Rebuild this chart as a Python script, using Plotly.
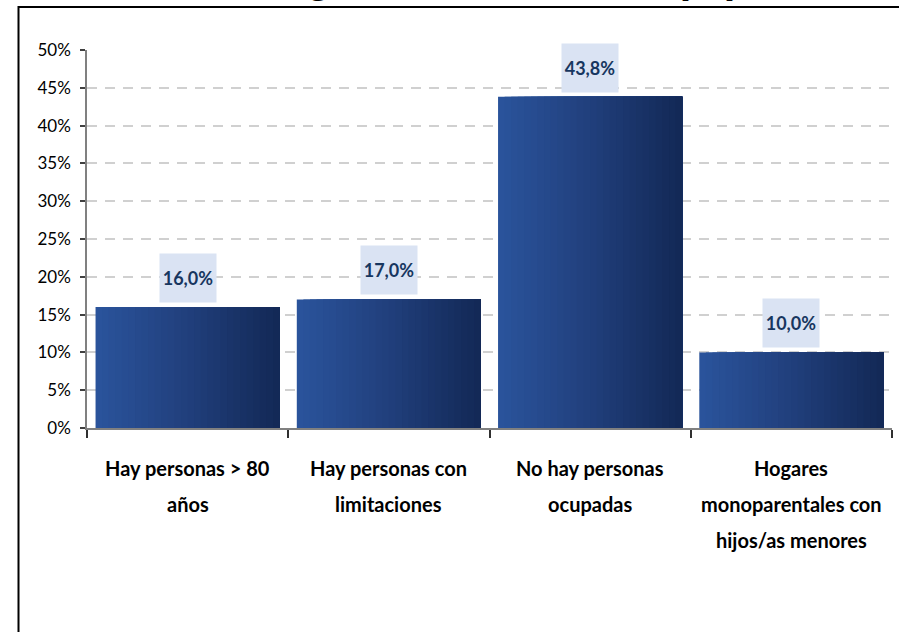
import plotly.graph_objects as go

# ---- data ----
categories = ["Hay personas > 80", "Hay personas con", "No hay personas", "Hogares"]
label_lines = [
    ["Hay personas > 80", "años"],
    ["Hay personas con", "limitaciones"],
    ["No hay personas", "ocupadas"],
    ["Hogares", "monoparentales con", "hijos/as menores"],
]
values = [16.0, 17.0, 43.8, 10.0]
value_labels = ["16,0%", "17,0%", "43,8%", "10,0%"]
y_ticks = [0, 5, 10, 15, 20, 25, 30, 35, 40, 45, 50]
y_tick_labels = ["0%", "5%", "10%", "15%", "20%", "25%", "30%", "35%", "40%", "45%", "50%"]
title_text = "Hogares vulnerables (%)"

# ---- layout constants ----
W, H = 899, 632
ML, MR, MT, MB = 87, 7, 50, 204
PW, PH = W - ML - MR, H - MT - MB
FONT = "Lato, Carlito, Liberation Sans, Arial"

def px_x(px):
    return (px - ML) / PW

def px_y(py):
    return (H - MB - py) / PH

def hexmix(c1, c2, t):
    a = [int(c1[i:i + 2], 16) for i in (1, 3, 5)]
    b = [int(c2[i:i + 2], 16) for i in (1, 3, 5)]
    return "#" + "".join(f"{round(a[k] + (b[k] - a[k]) * t):02x}" for k in range(3))

fig = go.Figure()

# gradient bars: overlapping slices of the same bars
BAR_W = 0.915
N = 28
c_left, c_mid, c_right = "#2a539b", "#213f7c", "#132957"
for i in range(N):
    t = i / (N - 1)
    col = hexmix(c_left, c_mid, t / 0.5) if t < 0.5 else hexmix(c_mid, c_right, (t - 0.5) / 0.5)
    off = -BAR_W / 2 + i * BAR_W / N
    fig.add_trace(go.Bar(
        x=categories, y=values,
        offset=off, width=BAR_W - i * BAR_W / N,
        marker=dict(color=col, line=dict(width=0)),
        showlegend=False, hoverinfo="skip",
    ))

# data labels
for c, v, lab in zip(categories, values, value_labels):
    fig.add_annotation(
        x=c, y=v, xref="x", yref="y", text=f"<b>{lab}</b>",
        showarrow=False, yanchor="bottom", yshift=4,
        width=54, height=46, borderpad=1, bgcolor="#dae3f3",
        font=dict(family=FONT, size=18, color="#17365f"),
    )

# category labels (separate lines for the wide line spacing)
for c, lines in zip(categories, label_lines):
    for j, ln in enumerate(lines):
        fig.add_annotation(
            x=c, y=0, xref="x", yref="paper", text=f"<b>{ln}</b>",
            showarrow=False, yanchor="middle", yshift=-(40 + 36 * j),
            font=dict(family=FONT, size=20, color="#000000"),
        )

# title (mostly cut off at the top)
fig.add_annotation(
    x=px_x(742), y=px_y(3), xref="paper", yref="paper",
    text=f"<b>{title_text}</b>", showarrow=False,
    xanchor="right", yanchor="bottom",
    font=dict(family="Liberation Sans, Arial", size=42, color="#000000"),
)

# outer frame
fig.add_shape(
    type="rect", xref="paper", yref="paper",
    x0=px_x(18.5), x1=px_x(940), y0=px_y(700), y1=px_y(7),
    line=dict(color="#000000", width=2), fillcolor="rgba(0,0,0,0)", layer="above",
)

fig.update_layout(
    width=W, height=H,
    margin=dict(l=ML, r=MR, t=MT, b=MB),
    paper_bgcolor="white", plot_bgcolor="white",
    barmode="overlay", showlegend=False,
    font=dict(family=FONT, color="#000000"),
    xaxis=dict(
        type="category", showticklabels=False, showgrid=False,
        showline=True, linecolor="#808080", linewidth=1.5,
        ticks="outside", tickson="boundaries", ticklen=8, tickcolor="#303030", tickwidth=1.5,
        zeroline=False, range=[-0.5, 3.5],
    ),
    yaxis=dict(
        range=[0, 50], tickmode="array", tickvals=y_ticks, ticktext=y_tick_labels,
        showgrid=True, gridcolor="#d0d0d0", gridwidth=1.5, griddash="10px,8px",
        showline=True, linecolor="#808080", linewidth=1.5,
        ticks="outside", ticklen=5, tickcolor="#404040", tickwidth=1.5,
        ticklabelstandoff=6,
        zeroline=False, tickfont=dict(family=FONT, size=17, color="#000000"),
    ),
)

fig.write_html(
    "out.html",
    config={"displayModeBar": False},
    post_script="document.body.style.margin='0';document.body.style.overflow='hidden';",
)
